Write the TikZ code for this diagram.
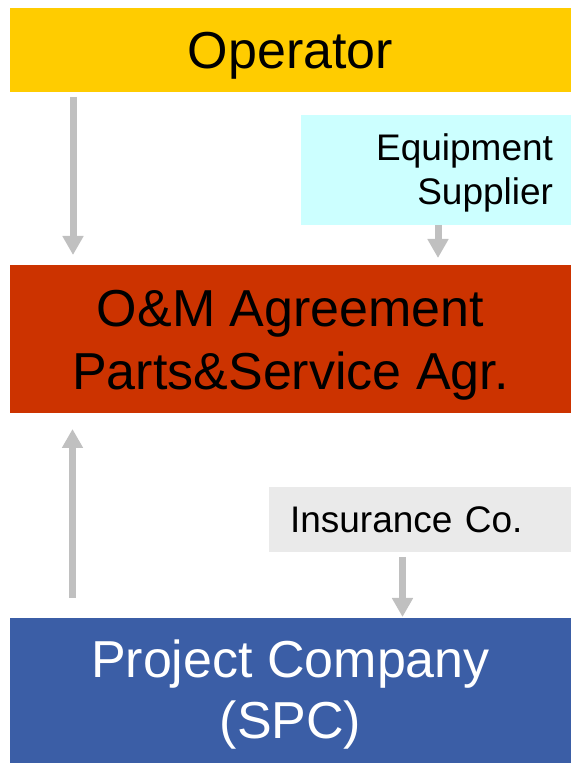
\documentclass[tikz,border=0pt]{standalone}
\usepackage{fontspec}
\setmainfont{Liberation Sans}
\usetikzlibrary{arrows.meta,calc}
\definecolor{opyellow}{HTML}{FFCC00}
\definecolor{eqcyan}{HTML}{CCFFFF}
\definecolor{omred}{HTML}{CC3300}
\definecolor{insgray}{HTML}{EAEAEA}
\definecolor{pcblue}{HTML}{3B5EA6}
\definecolor{arrgray}{HTML}{C0C0C0}
\begin{document}
\begin{tikzpicture}[x=1pt,y=1pt,
  box/.style={draw=none,inner sep=0pt,outer sep=0pt,align=center},
  bigtext/.style={font=\fontsize{52}{63.3}\selectfont},
  smalltext/.style={font=\fontsize{37}{44}\selectfont},
  arr/.style={draw=arrgray,line width=7pt,-{Triangle[width=20pt,length=19pt]}}]
\useasboundingbox (0,0) rectangle (571,763);
\node[box,bigtext,fill=opyellow,minimum width=561pt,minimum height=84pt,text height=40pt,text depth=3.4pt] (op) at (290.5,713) {Operator};
\node[box,smalltext,fill=eqcyan,minimum height=110pt,inner xsep=18pt,text width=234pt,align=right,text height=30pt,text depth=48pt] (eq) at (436,593) {Equipment\\Supplier};
\node[box,bigtext,fill=omred,minimum width=561pt,minimum height=148pt,text height=110pt,text depth=8pt] (om) at (290.5,424) {O\&M Agreement\\Parts\&Service Agr.};
\node[box,smalltext,fill=insgray,minimum height=65pt,inner xsep=21pt,text width=260pt,align=left,text height=30pt,text depth=3pt] (ins) at (420,243.5) {Insurance Co.};
\node[box,bigtext,fill=pcblue,text=white,minimum width=561pt,minimum height=145pt,text height=104pt,text depth=8.4pt,font=\fontsize{52}{60.5}\selectfont] (pc) at (290.5,72.5) {Project Company\\(SPC)};
\draw[arr] ($(op.south west)+(63,-5)$) -- ($(om.north west)+(63,10)$);
\coordinate (a2s) at ($(eq.south)+(2,0)$);
\coordinate (a2e) at ($(om.north)+(0,7)$);
\draw[arr] (a2s) -- (a2s |- a2e);
\draw[arr] ($(pc.north west)+(62.5,20)$) -- ($(om.south west)+(62.5,-16)$);
\coordinate (a4s) at ($(ins.south)+(-17.5,-5)$);
\coordinate (a4e) at ($(pc.north)+(0,1)$);
\draw[arr] (a4s) -- (a4s |- a4e);
\end{tikzpicture}
\end{document}
